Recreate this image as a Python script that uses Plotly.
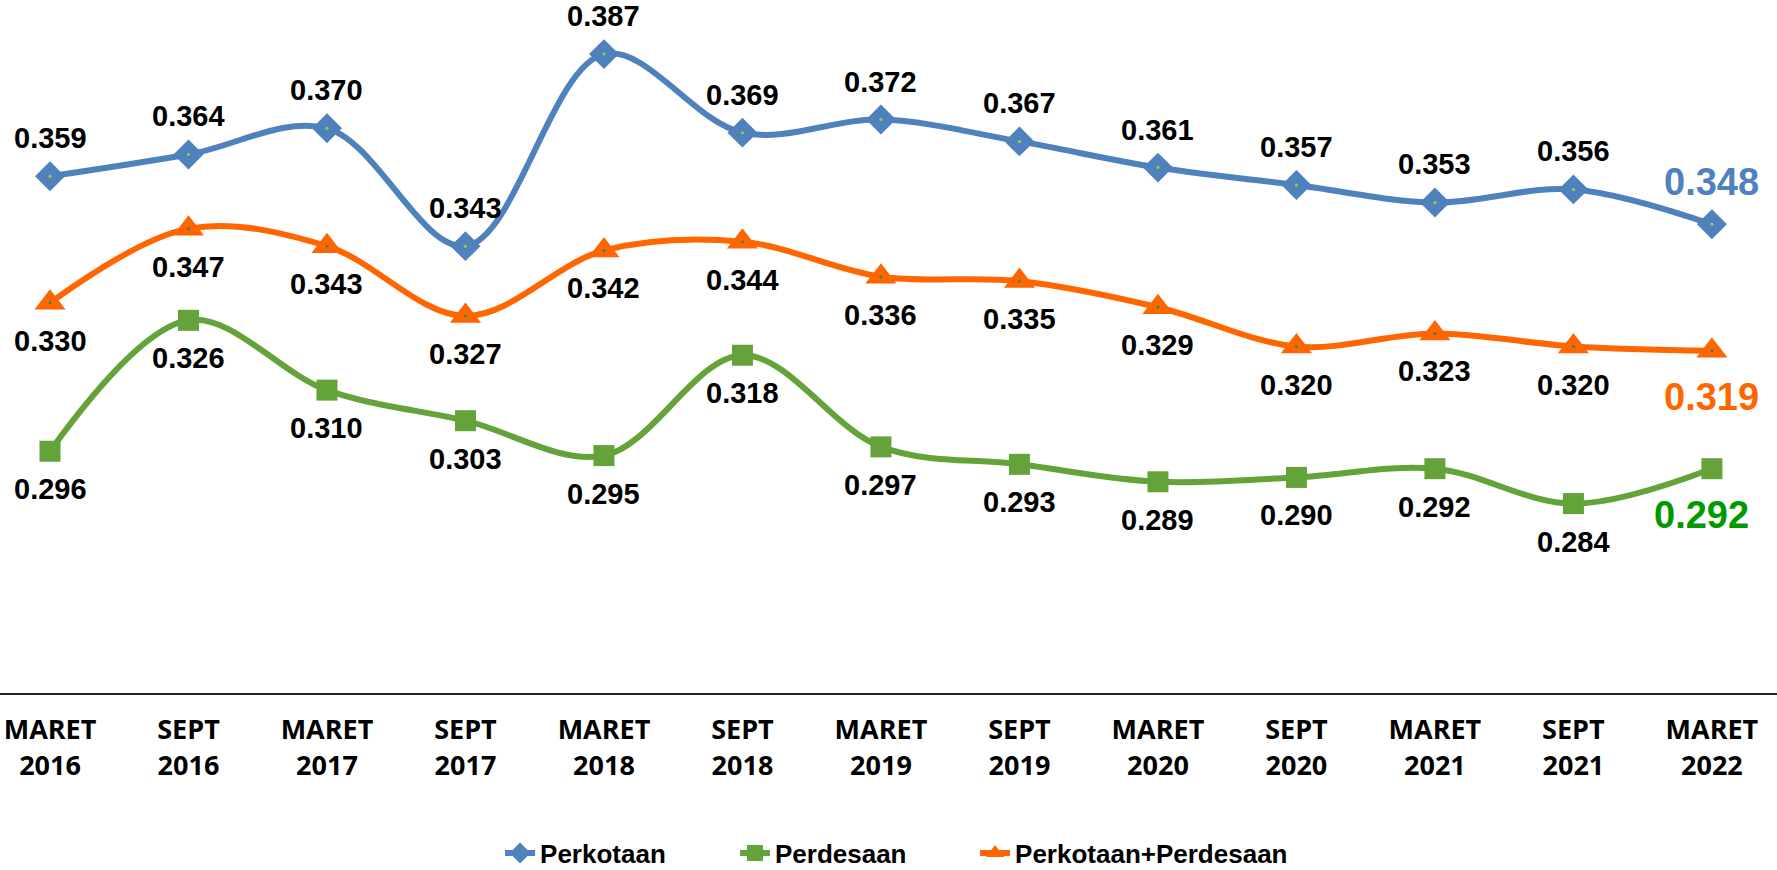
import plotly.graph_objects as go

categories = ["MARET<br>2016", "SEPT<br>2016", "MARET<br>2017", "SEPT<br>2017", "MARET<br>2018",
              "SEPT<br>2018", "MARET<br>2019", "SEPT<br>2019", "MARET<br>2020", "SEPT<br>2020",
              "MARET<br>2021", "SEPT<br>2021", "MARET<br>2022"]
perkotaan = [0.359, 0.364, 0.370, 0.343, 0.387, 0.369, 0.372, 0.367, 0.361, 0.357, 0.353, 0.356, 0.348]
perdesaan = [0.296, 0.326, 0.310, 0.303, 0.295, 0.318, 0.297, 0.293, 0.289, 0.290, 0.292, 0.284, 0.292]
gabungan = [0.330, 0.347, 0.343, 0.327, 0.342, 0.344, 0.336, 0.335, 0.329, 0.320, 0.323, 0.320, 0.319]

BLUE = "#4F81BD"
GREEN = "#63A33A"
ORANGE = "#FF6600"
xs = list(range(len(categories)))

fig = go.Figure()
series = [
    ("Perkotaan", perkotaan, BLUE, "diamond", 23, "#9BD33A", 1, BLUE, "legend", 0.2814),
    ("Perdesaan", perdesaan, GREEN, "square", 21, None, -1, "#009900", "legend2", 0.4136),
    ("Perkotaan+Perdesaan", gabungan, ORANGE, "triangle-up", 27, "#2E8B57", -1, ORANGE, "legend3", 0.5487),
]
for name, vals, col, sym, msize, dot, side, lastcol, leg, lx in series:
    fig.add_trace(go.Scatter(
        x=xs, y=vals, name=name, mode="lines+markers", legend=leg,
        line=dict(color=col, width=6, shape="spline", smoothing=1),
        marker=dict(symbol=sym, size=msize, color=col),
    ))
    if dot:
        fig.add_trace(go.Scatter(x=xs, y=vals, mode="markers", showlegend=False,
                                 marker=dict(size=3, color=dot), hoverinfo="skip"))

annotations = []
for name, vals, col, sym, msize, dot, side, lastcol, leg, lx in series:
    n = len(vals)
    for i, v in enumerate(vals):
        last = i == n - 1
        if last:
            font = dict(family="Liberation Sans, Arial, sans-serif", size=38, color=lastcol, weight="bold")
            shift = 42 if side > 0 else -46
            xshift = -10 if name == "Perdesaan" else 0
        else:
            font = dict(family="Liberation Sans, Arial, sans-serif", size=29, color="black", weight="bold")
            shift = 38 * side
            xshift = 0
        annotations.append(dict(x=i, y=v, xref="x", yref="y", text=f"{v:.3f}", showarrow=False,
                                yshift=shift, xshift=xshift, font=font))

legend_style = dict(orientation="h", xanchor="left", y=-0.231, yanchor="middle",
                    font=dict(family="Liberation Sans, Arial, sans-serif",
                              size=26, color="black", weight="bold"),
                    itemwidth=30, bgcolor="rgba(0,0,0,0)")

fig.update_layout(
    width=1777, height=870,
    margin=dict(l=0, r=0, t=0, b=177, autoexpand=False),
    plot_bgcolor="white", paper_bgcolor="white",
    annotations=annotations,
    showlegend=True,
    legend=dict(x=series[0][9], **legend_style),
    legend2=dict(x=series[1][9], **legend_style),
    legend3=dict(x=series[2][9], **legend_style),
    xaxis=dict(tickmode="array", tickvals=xs, ticktext=categories, range=[-0.361, 12.47],
               showgrid=False, zeroline=False, showline=True, linecolor="#222222", linewidth=2,
               ticks="", ticklabelstandoff=12,
               tickfont=dict(family="Open Sans, sans-serif", size=27, color="black", weight="bold")),
    yaxis=dict(range=[0.2406, 0.3994], visible=False, showgrid=False, zeroline=False),
)

fig.write_html("out.html")
